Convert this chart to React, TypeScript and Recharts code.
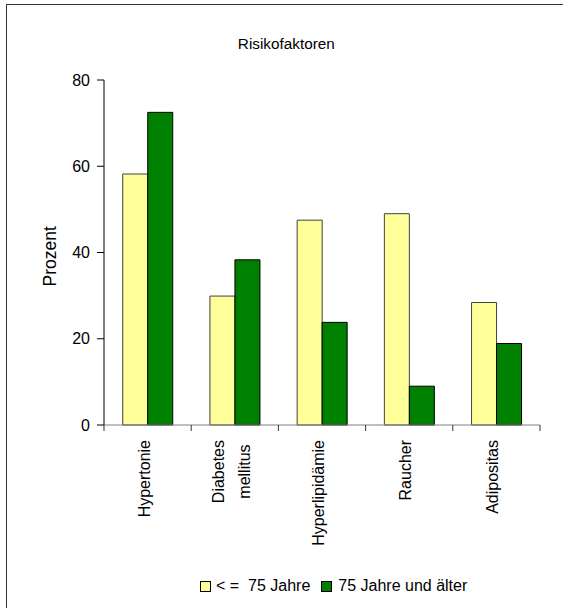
import React from 'react';
import { BarChart, Bar, XAxis, YAxis, Legend, Label } from 'recharts';

// Risk factors by age group, in percent
const categories = ['Hypertonie', 'Diabetes mellitus', 'Hyperlipidämie', 'Raucher', 'Adipositas'];
const upTo75 = [58.2, 29.9, 47.5, 49.0, 28.4];
const from75 = [72.5, 38.3, 23.8, 9.0, 18.9];
const yTicks = [0, 20, 40, 60, 80];
const seriesNames = ['< =  75 Jahre', '75 Jahre und älter'];
const chartTitle = 'Risikofaktoren';
const yAxisTitle = 'Prozent';

const data = categories.map((name, i) => ({ name, young: upTo75[i], old: from75[i] }));

const FONT = '"Liberation Sans", Arial, Helvetica, sans-serif';
const FS = 16;
const YELLOW = '#FFFF99';
const GREEN = '#008000';

// Approximate Arial advance widths (em) for centring wrapped labels
const CHAR_W: Record<string, number> = {
  H: 0.722, D: 0.722, R: 0.722, A: 0.667, y: 0.5, s: 0.5, c: 0.5, k: 0.5,
  r: 0.333, t: 0.278, f: 0.278, i: 0.222, l: 0.222, m: 0.833, ' ': 0.278,
};
const textWidth = (s: string, size: number) =>
  Array.from(s).reduce((w, c) => w + (CHAR_W[c] ?? 0.556), 0) * size;

function CategoryTick(props: any) {
  const { x, y, payload, index } = props;
  const half = typeof payload?.offset === 'number' && payload.offset > 0 ? payload.offset : 43.6;
  const lines = String(payload.value).split(' ');
  const maxW = Math.max(...lines.map((l) => textWidth(l, FS)));
  const n = lines.length;
  return (
    <g>
      <line x1={x - half} x2={x - half} y1={y} y2={y + 6} stroke="#333" />
      {index === categories.length - 1 && (
        <line x1={x + half} x2={x + half} y1={y} y2={y + 6} stroke="#333" />
      )}
      {lines.map((ln, i) => {
        const bx = x + 2 + (i - (n - 1) / 2) * 26;
        const by = y + 15 + maxW / 2;
        return (
          <text
            key={i}
            transform={`translate(${bx},${by}) rotate(-90)`}
            textAnchor="middle"
            fontSize={FS}
            fontFamily={FONT}
            fill="#000"
          >
            {ln}
          </text>
        );
      })}
    </g>
  );
}

function LegendContent() {
  const swatch = (color: string) => (
    <span
      style={{
        display: 'inline-block',
        width: 9,
        height: 9,
        marginTop: 4.5,
        background: color,
        border: '1px solid #000',
        boxSizing: 'content-box',
        flex: 'none',
      }}
    />
  );
  return (
    <div
      style={{
        display: 'flex',
        alignItems: 'flex-start',
        height: 20,
        lineHeight: '20px',
        fontFamily: FONT,
        fontSize: FS,
        color: '#000',
        whiteSpace: 'pre',
      }}
    >
      {swatch(YELLOW)}
      <span style={{ marginLeft: 5, marginRight: 10.5 }}>{seriesNames[0]}</span>
      {swatch(GREEN)}
      <span style={{ marginLeft: 6.5 }}>{seriesNames[1]}</span>
    </div>
  );
}

export default function App() {
  return (
    <div
      style={{
        position: 'absolute',
        left: 0,
        top: 0,
        width: 563,
        height: 608,
        overflow: 'hidden',
        background: '#fff',
      }}
    >
      <div
        style={{
          position: 'absolute',
          left: 6,
          top: 4,
          width: 700,
          height: 800,
          border: '1px solid #333',
          boxSizing: 'border-box',
        }}
      />
      <div style={{ position: 'absolute', left: 0, top: 0 }}>
        <BarChart
          width={563}
          height={608}
          data={data}
          margin={{ top: 80, right: 23, bottom: 11.8, left: 0 }}
          barCategoryGap="21.5%"
          barGap={0}
        >
          <XAxis
            dataKey="name"
            height={151.2}
            interval={0}
            tickLine={false}
            tickSize={0}
            tickMargin={0}
            axisLine={{ stroke: '#808080' }}
            tick={<CategoryTick />}
          />
          <YAxis
            width={104}
            domain={[0, 80]}
            ticks={yTicks}
            interval={0}
            tickSize={7}
            tickMargin={7}
            axisLine={{ stroke: '#000' }}
            tickLine={{ stroke: '#000' }}
            tick={{ fill: '#000', fontSize: FS, fontFamily: FONT }}
          >
            <Label
              content={() => (
                <text
                  transform="translate(55.7,256.3) rotate(-90)"
                  textAnchor="middle"
                  fontSize={17.5}
                  fontFamily={FONT}
                  fill="#000"
                >
                  {yAxisTitle}
                </text>
              )}
            />
          </YAxis>
          <Legend
            verticalAlign="bottom"
            align="left"
            content={<LegendContent />}
            wrapperStyle={{ left: 200, width: 320 }}
          />
          <Bar dataKey="young" name={seriesNames[0]} fill={YELLOW} stroke="#404040" strokeWidth={1} isAnimationActive={false} />
          <Bar dataKey="old" name={seriesNames[1]} fill={GREEN} stroke="#000" strokeWidth={1} isAnimationActive={false} />
        </BarChart>
      </div>
      <svg
        width={563}
        height={608}
        style={{ position: 'absolute', left: 0, top: 0, pointerEvents: 'none' }}
      >
        <text x={286.3} y={49} textAnchor="middle" fontSize={15.3} fontFamily={FONT} fill="#000">
          {chartTitle}
        </text>
      </svg>
    </div>
  );
}
